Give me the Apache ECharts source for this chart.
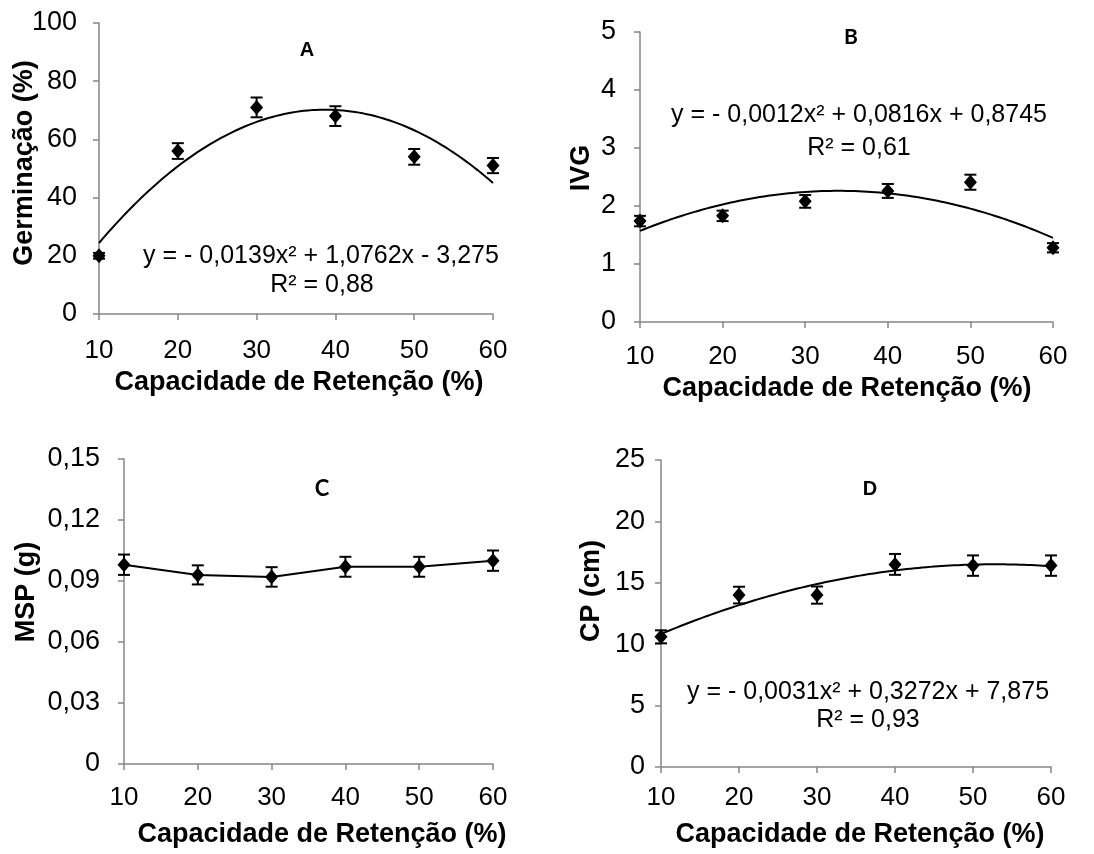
<!DOCTYPE html>
<html>
<head>
<meta charset="utf-8">
<script src="https://cdn.jsdelivr.net/npm/echarts@6/dist/echarts.min.js"></script>
<style>html,body{margin:0;padding:0;background:#fff;}#c{width:1094px;height:854px;}</style>
</head>
<body>
<div id="c"></div>
<script>
// ---- data ----
const xValues = [10, 20, 30, 40, 50, 60];
const xTicks = [10, 20, 30, 40, 50, 60];

const germValues = [20, 56, 71, 68, 54, 51];
const germErr = [1.0, 2.7, 3.4, 3.4, 2.7, 2.6];
const ivgValues = [1.74, 1.83, 2.08, 2.26, 2.41, 1.28];
const ivgErr = [0.09, 0.09, 0.11, 0.12, 0.13, 0.08];
const mspValues = [0.098, 0.093, 0.092, 0.097, 0.097, 0.100];
const mspErr = [0.005, 0.0047, 0.0048, 0.0049, 0.0049, 0.005];
const cpValues = [10.6, 14.0, 14.0, 16.5, 16.4, 16.4];
const cpErr = [0.53, 0.68, 0.70, 0.85, 0.83, 0.83];

// regression coefficients [c0, c1, c2] as printed; A curve is drawn on the % scale (x4)
const trendA = [-3.275, 1.0762, -0.0139];
const trendAScale = 4;
const trendB = [0.8745, 0.0816, -0.0012];
const trendD = [7.875, 0.3272, -0.0031];

const yTicksA = [0, 20, 40, 60, 80, 100];
const yTicksB = [0, 1, 2, 3, 4, 5];
const yTicksC = [0, 0.03, 0.06, 0.09, 0.12, 0.15];
const yTicksD = [0, 5, 10, 15, 20, 25];

const eqA = 'y = - 0,0139x² + 1,0762x - 3,275';
const r2A = 'R² = 0,88';
const eqB = 'y = - 0,0012x² + 0,0816x + 0,8745';
const r2B = 'R² = 0,61';
const eqD = 'y = - 0,0031x² + 0,3272x + 7,875';
const r2D = 'R² = 0,93';
const xTitle = 'Capacidade de Retenção (%)';

// ---- helpers ----
function curve(c, scale) {
  const pts = [];
  for (let x = 10; x <= 60; x += 0.5) {
    pts.push([x, scale * (c[0] + c[1] * x + c[2] * x * x)]);
  }
  return pts;
}
function pairs(vals) { return xValues.map((x, i) => [x, vals[i]]); }
function errData(vals, errs) { return xValues.map((x, i) => [x, vals[i] - errs[i], vals[i] + errs[i]]); }

const FONT = '"Liberation Sans", Arial, sans-serif';
const AXIS_COLOR = '#878787';

const grids = [
  { left: 99, top: 23, width: 394, height: 291 },
  { left: 640, top: 32, width: 413, height: 290 },
  { left: 124, top: 459, width: 369, height: 305 },
  { left: 661, top: 460, width: 390, height: 307 }
];
const yInfo = [
  { ticks: yTicksA, margin: 22, xm: 24 },
  { ticks: yTicksB, margin: 24, xm: 22 },
  { ticks: yTicksC, margin: 24, xm: 21 },
  { ticks: yTicksD, margin: 16, xm: 18 }
];

function fmtComma(v) {
  if (Math.abs(v) < 1e-9) return '0';
  const s = (Math.round(v * 1000) / 1000).toString();
  return s.replace('.', ',');
}
function fmtC(v) {
  if (Math.abs(v) < 1e-9) return '0';
  return v.toFixed(2).replace('.', ',');
}

const xAxes = grids.map((g, i) => ({
  type: 'value', gridIndex: i, min: 10, max: 60, interval: 10,
  axisLine: { show: true, lineStyle: { color: AXIS_COLOR, width: 1.5 } },
  axisTick: { show: true, length: 6, lineStyle: { color: AXIS_COLOR, width: 1.5 } },
  splitLine: { show: false },
  axisLabel: { color: '#000', fontSize: 26, fontFamily: FONT, margin: yInfo[i].xm,
    customValues: xTicks }
}));
xAxes.forEach(a => { a.axisTick.customValues = xTicks; });

const yAxes = grids.map((g, i) => {
  const t = yInfo[i].ticks;
  return {
    type: 'value', gridIndex: i, min: t[0], max: t[t.length - 1], interval: t[1] - t[0],
    axisLine: { show: true, lineStyle: { color: AXIS_COLOR, width: 1.5 } },
    axisTick: { show: true, length: 6, lineStyle: { color: AXIS_COLOR, width: 1.5 } },
    splitLine: { show: false },
    axisLabel: { color: '#000', fontSize: 27, fontFamily: FONT, margin: yInfo[i].margin,
      formatter: i === 2 ? fmtC : fmtComma }
  };
});

function errSeries(idx, vals, errs) {
  return {
    type: 'custom', xAxisIndex: idx, yAxisIndex: idx, z: 5,
    data: errData(vals, errs),
    renderItem: function (params, api) {
      const x = api.value(0);
      const lo = api.coord([x, api.value(1)]);
      const hi = api.coord([x, api.value(2)]);
      const w = 6;
      const st = { stroke: '#000', lineWidth: 2 };
      return { type: 'group', children: [
        { type: 'line', shape: { x1: lo[0], y1: lo[1], x2: hi[0], y2: hi[1] }, style: st },
        { type: 'line', shape: { x1: lo[0] - w, y1: lo[1], x2: lo[0] + w, y2: lo[1] }, style: st },
        { type: 'line', shape: { x1: hi[0] - w, y1: hi[1], x2: hi[0] + w, y2: hi[1] }, style: st }
      ]};
    }
  };
}
function pointSeries(idx, vals) {
  return {
    type: 'scatter', xAxisIndex: idx, yAxisIndex: idx, z: 6,
    symbol: 'diamond', symbolSize: [13, 15],
    itemStyle: { color: '#000', opacity: 1 }, data: pairs(vals)
  };
}
function trendSeries(idx, pts) {
  return {
    type: 'line', xAxisIndex: idx, yAxisIndex: idx, z: 3, showSymbol: false, smooth: false,
    lineStyle: { color: '#000', width: 2 }, data: pts, animation: false
  };
}

const series = [
  trendSeries(0, curve(trendA, trendAScale)),
  errSeries(0, germValues, germErr), pointSeries(0, germValues),
  trendSeries(1, curve(trendB, 1)),
  errSeries(1, ivgValues, ivgErr), pointSeries(1, ivgValues),
  { type: 'line', xAxisIndex: 2, yAxisIndex: 2, z: 3, data: pairs(mspValues),
    symbol: 'diamond', symbolSize: [13, 15], showSymbol: true,
    itemStyle: { color: '#000', opacity: 1 }, lineStyle: { color: '#000', width: 2 } },
  errSeries(2, mspValues, mspErr),
  trendSeries(3, curve(trendD, 1)),
  errSeries(3, cpValues, cpErr), pointSeries(3, cpValues)
];

function txt(x, y, text, size, bold, family, rot) {
  return {
    type: 'text', x: x, y: y, rotation: rot || 0, z: 10,
    style: { text: text, x: 0, y: 0, align: 'center', verticalAlign: 'middle',
      font: (bold ? 'bold ' : '') + size + 'px ' + (family || FONT), fill: '#000' }
  };
}
const CAL = 'Lato, "Open Sans", sans-serif';
const graphic = [
  txt(307, 50, 'A', 20, true),
  txt(851, 37, 'B', 21, true, CAL),
  txt(322, 489, 'C', 22, true, CAL),
  txt(870, 489, 'D', 20, true),
  txt(321, 256, eqA, 25, false),
  txt(322, 285, r2A, 25, false),
  txt(859, 115, eqB, 25, false),
  txt(859, 148, r2B, 25, false),
  txt(868, 692, eqD, 25, false),
  txt(868, 720, r2D, 25, false),
  txt(25, 163, 'Germinação (%)', 27, true, FONT, Math.PI / 2),
  txt(582, 168, 'IVG', 27, true, FONT, Math.PI / 2),
  txt(27, 592, 'MSP (g)', 27, true, FONT, Math.PI / 2),
  txt(592, 591, 'CP (cm)', 27, true, FONT, Math.PI / 2),
  txt(299, 383, xTitle, 27, true),
  txt(847, 389, xTitle, 27, true),
  txt(322, 835, xTitle, 27, true),
  txt(860, 835, xTitle, 27, true)
];

const chart = echarts.init(document.getElementById('c'), null, { renderer: 'canvas' });
chart.setOption({
  backgroundColor: '#fff',
  animation: false,
  grid: grids,
  xAxis: xAxes,
  yAxis: yAxes,
  series: series,
  graphic: graphic
});
</script>
</body>
</html>
